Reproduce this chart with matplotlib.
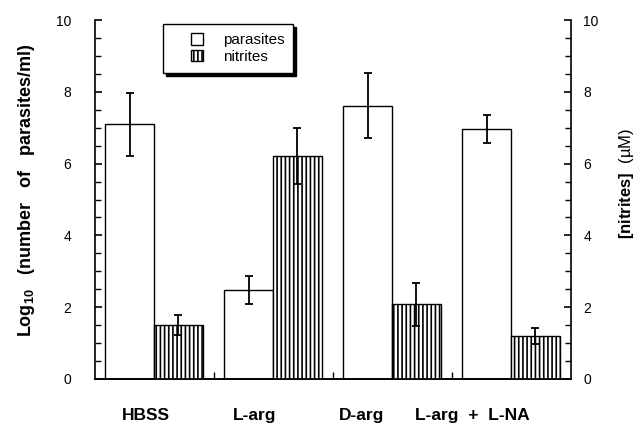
import matplotlib
matplotlib.use('Agg')
import matplotlib.pyplot as plt
from matplotlib.patches import Patch, Rectangle
from matplotlib.legend_handler import HandlerPatch
from matplotlib.ticker import MultipleLocator, FixedLocator
import numpy as np

plt.rcParams['font.family'] = ['Liberation Sans', 'DejaVu Sans']
plt.rcParams['mathtext.fontset'] = 'custom'
plt.rcParams['mathtext.rm'] = 'Liberation Sans'
plt.rcParams['mathtext.bf'] = 'Liberation Sans:bold'
plt.rcParams['mathtext.it'] = 'Liberation Sans:italic'
plt.rcParams['hatch.linewidth'] = 1.2

# ---- data ----
categories = ['HBSS', 'L-arg', 'D-arg', 'L-arg  +  L-NA']
parasites = [7.10, 2.48, 7.61, 6.96]
parasites_err = [0.88, 0.40, 0.91, 0.40]
nitrites = [1.50, 6.21, 2.08, 1.20]
nitrites_err = [0.28, 0.78, 0.60, 0.22]
legend_labels = ['parasites', 'nitrites']
yticks = [0, 2, 4, 6, 8, 10]

# ---- layout ----
W, H = 638, 429
fig = plt.figure(figsize=(W / 100, H / 100), dpi=100)
ax = fig.add_axes([95 / W, 50 / H, 476 / W, 359 / H])
ax2 = ax.twinx()

x = np.arange(len(categories))
bw = 0.41
err_kw = dict(ecolor='black', elinewidth=1.3, capsize=2.6, capthick=1.3)

ax.bar(x + 0.085, parasites, width=bw, align='edge', facecolor='white',
       edgecolor='black', linewidth=1.0, yerr=parasites_err, error_kw=err_kw)
ax2.bar(x + 0.495, nitrites, width=bw, align='edge', facecolor='white',
        edgecolor='black', linewidth=1.0, hatch='||||',
        yerr=nitrites_err, error_kw=err_kw)

ax.set_xlim(0, len(categories))
ax.set_ylim(0, 10)
ax2.set_ylim(0, 10)

for a in (ax, ax2):
    a.spines['top'].set_visible(False)
    for s in a.spines.values():
        s.set_linewidth(1.2)
ax.spines['right'].set_visible(False)
ax2.spines['left'].set_visible(False)

# y ticks
for a, pad in ((ax, 17), (ax2, 9)):
    a.set_yticks(yticks)
    a.yaxis.set_minor_locator(MultipleLocator(0.5))
    a.tick_params(axis='y', which='major', direction='in', length=5,
                  width=1.2, pad=pad, labelsize=10)
    a.tick_params(axis='y', which='minor', direction='in', length=4,
                  width=1.0)
ax.tick_params(axis='y', which='both', right=False)

# x ticks: labels at offsets, boundary ticks inward
label_pos = [0.43, 1.34, 2.24, 3.17]
ax.set_xticks(label_pos)
ax.set_xticklabels(categories, fontweight='bold', fontsize=12.5)
ax.tick_params(axis='x', which='major', length=0, pad=21)
ax.xaxis.set_minor_locator(FixedLocator([1, 2, 3]))
ax.tick_params(axis='x', which='minor', direction='in', length=5, width=1.0)

# axis labels
ax.set_ylabel(r'Log$_{\mathbf{10}}$   (number   of   parasites/ml)',
              fontweight='bold', fontsize=13)
ax.yaxis.set_label_coords(-0.122, 0.526)
ax2.set_ylabel(r'$\mathbf{[nitrites]}$  (µM)', fontsize=12, rotation=90)
ax2.yaxis.set_label_coords(1.097, 0.546)


# legend with square swatches on the right of the handle box
def square(legend, orig_handle, xdescent, ydescent, width, height, fontsize):
    s = 0.75 * fontsize
    return Rectangle((-xdescent + width - s, -ydescent + (height - s) / 2), s, s)


handles = [Patch(facecolor='white', edgecolor='black', linewidth=1.0),
           Patch(facecolor='white', edgecolor='black', linewidth=1.0, hatch='||||')]
leg = fig.legend(handles, legend_labels, loc='upper left',
                 bbox_to_anchor=(163 / W, 1 - 24 / H), bbox_transform=fig.transFigure,
                 fontsize=11, frameon=True, fancybox=False,
                 shadow={'color': 'black', 'alpha': 1},
                 edgecolor='black', framealpha=1, borderpad=0.6,
                 handlelength=2.0, handleheight=0.8, handletextpad=1.3,
                 labelspacing=0.15, borderaxespad=0,
                 handler_map={Patch: HandlerPatch(patch_func=square)})
leg.get_frame().set_linewidth(1.0)

fig.savefig('out.png', dpi=100)
